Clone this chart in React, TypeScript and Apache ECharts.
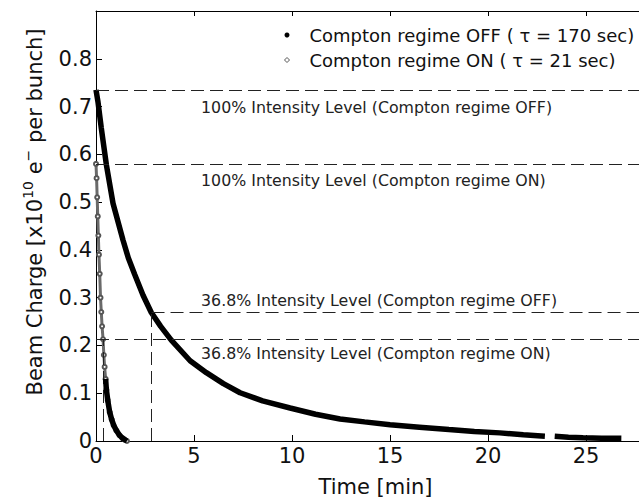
import React, { useEffect, useRef } from "react";
import * as echarts from "echarts";

// Compton regime OFF (tau = 170 sec): time [min], beam charge [1e10 e- per bunch]
const offTime = [0, 0.1, 0.27, 0.53, 0.87, 1.38, 1.65, 1.97, 2.4, 2.82, 3.3, 3.84, 4.8, 5.63, 6.5, 7.35, 8.5, 9.9, 11.2, 12.45, 13.7, 15.0, 16.5, 18.0, 19.3, 20.6, 21.8, 22.9, 23.15, 23.4, 24.1, 24.85, 25.8, 26.8];
const offCharge = [0.735, 0.71, 0.655, 0.578, 0.497, 0.42, 0.383, 0.349, 0.305, 0.269, 0.24, 0.211, 0.168, 0.143, 0.12, 0.101, 0.084, 0.069, 0.056, 0.046, 0.04, 0.034, 0.029, 0.024, 0.02, 0.017, 0.013, 0.01, null, 0.01, 0.008, 0.007, 0.006, 0.0055];

// Compton regime ON (tau = 21 sec)
const onTime = [0, 0.03, 0.06, 0.09, 0.12, 0.15, 0.19, 0.23, 0.27, 0.31, 0.36, 0.4, 0.44, 0.49, 0.53, 0.6, 0.7, 0.8, 0.9, 1.04, 1.2, 1.35, 1.46, 1.58];
const onCharge = [0.58, 0.55, 0.51, 0.47, 0.43, 0.39, 0.35, 0.3, 0.27, 0.24, 0.213, 0.18, 0.155, 0.13, 0.107, 0.085, 0.06, 0.045, 0.033, 0.022, 0.012, 0.006, 0.003, 0.0];

const seriesNames = ["Compton regime OFF ( \u03c4 = 170 sec)", "Compton regime ON ( \u03c4 = 21 sec)"];
const level100 = [0.735, 0.58]; // OFF, ON
const level368 = [0.27, 0.213]; // OFF, ON
const tauMin = [170 / 60, 21 / 60]; // OFF, ON
const levelTexts = [
  "100% Intensity Level (Compton regime OFF)",
  "100% Intensity Level (Compton regime ON)",
  "36.8% Intensity Level (Compton regime OFF)",
  "36.8% Intensity Level (Compton regime ON)",
];

const X_MAX = 27.7;
const Y_MAX = 0.9;
const FONT = "DejaVu Sans";

export default function App() {
  const ref = useRef<HTMLDivElement>(null);
  useEffect(() => {
    const chart = echarts.init(ref.current!, null, { renderer: "svg" });
    const dash = { type: [13, 6] as any, color: "#222", width: 1 };
    const xLabelFmt = (v: number) => (Math.abs(v / 5 - Math.round(v / 5)) < 1e-6 ? String(Math.round(v)) : "");
    const yLabelFmt = (v: number) => (v > 0.85 ? "" : String(Math.round(v * 10) / 10));
    const onPairs = onTime.map((t, i) => [t, onCharge[i]]);
    const option: any = {
      animation: false,
      backgroundColor: "#fff",
      grid: { left: 96, top: 11, right: 0, bottom: 57, containLabel: false },
      legend: {
        orient: "vertical",
        left: 279,
        top: 21,
        itemWidth: 5,
        itemHeight: 5,
        itemGap: 7,
        textStyle: { fontFamily: FONT, fontSize: 18, color: "#111", lineHeight: 18, padding: [0, 0, 0, 15] },
        data: [
          { name: seriesNames[0], icon: "circle", itemStyle: { color: "#000", borderWidth: 0 } },
          { name: seriesNames[1], icon: "diamond", itemStyle: { color: "#fff", borderColor: "#555", borderWidth: 1 } },
        ],
      },
      xAxis: [
        {
          type: "value",
          min: 0,
          max: X_MAX,
          interval: 5,
          position: "bottom",
          name: "Time [min]",
          nameLocation: "middle",
          nameGap: 35,
          nameTextStyle: { fontFamily: FONT, fontSize: 21, color: "#111", padding: [0, 0, 0, 16] },
          axisLine: { lineStyle: { color: "#000", width: 1 } },
          axisTick: { inside: true, length: 6, lineStyle: { color: "#000" } },
          axisLabel: { fontFamily: FONT, fontSize: 21, color: "#111", margin: 4, showMaxLabel: false, formatter: xLabelFmt },
          splitLine: { show: false },
        },
        {
          type: "value",
          min: 0,
          max: X_MAX,
          interval: 5,
          position: "top",
          axisLine: { lineStyle: { color: "#000", width: 1 } },
          axisTick: { inside: true, length: 5, lineStyle: { color: "#000" } },
          axisLabel: { show: false },
          splitLine: { show: false },
        },
      ],
      yAxis: {
        type: "value",
        min: 0,
        max: Y_MAX,
        interval: 0.1,
        name: "{n|Beam Charge [x10}{s|10}{n| e}{s|\u2212}{n| per bunch]}",
        nameLocation: "middle",
        nameGap: 47,
        nameTextStyle: {
          padding: [0, 0, 0, 28],
          rich: {
            n: { fontFamily: FONT, fontSize: 21, color: "#111", lineHeight: 28 },
            s: { fontFamily: FONT, fontSize: 14, color: "#111", lineHeight: 14, verticalAlign: "top" },
          },
        },
        axisLine: { lineStyle: { color: "#000", width: 1 } },
        axisTick: { inside: true, length: 6, lineStyle: { color: "#000" } },
        axisLabel: { fontFamily: FONT, fontSize: 21, color: "#111", margin: 4, formatter: yLabelFmt },
        splitLine: { show: false },
      },
      series: [
        {
          name: seriesNames[0],
          type: "line",
          data: offTime.map((t, i) => [t, offCharge[i] === null ? "-" : offCharge[i]]),
          symbol: "none",
          lineStyle: { color: "#000", width: 5.5 },
          itemStyle: { color: "#000" },
          z: 3,
          markLine: {
            silent: true,
            symbol: ["none", "none"],
            label: { show: false },
            lineStyle: dash,
            data: [
              [{ coord: [0, level100[0]] }, { coord: [X_MAX, level100[0]] }],
              [{ coord: [0, level100[1]] }, { coord: [X_MAX, level100[1]] }],
              [{ coord: [tauMin[0], level368[0]] }, { coord: [X_MAX, level368[0]] }],
              [{ coord: [0, level368[1]] }, { coord: [X_MAX, level368[1]] }],
              [{ coord: [tauMin[0], 0] }, { coord: [tauMin[0], level368[0]] }],
              [{ coord: [tauMin[1], 0] }, { coord: [tauMin[1], level368[1]] }],
            ],
          },
        },
        {
          name: seriesNames[1],
          type: "line",
          data: onPairs,
          symbol: "emptyCircle",
          symbolSize: 4,
          showAllSymbol: true,
          lineStyle: { width: 3, color: "#6a6a6a" },
          itemStyle: { color: "#555", borderWidth: 1 },
          z: 4,
        },
        {
          name: "ON tail",
          type: "line",
          data: onPairs.filter((p) => p[1] <= 0.13),
          symbol: "none",
          lineStyle: { width: 5.5, color: "#000" },
          z: 5,
        },
      ],
    };
    chart.setOption(option);

    const labelT = 5.36;
    const specs = [
      { v: level100[0], dy: 17.5 },
      { v: level100[1], dy: 17 },
      { v: level368[0], dy: -12 },
      { v: level368[1], dy: 14 },
    ];
    const graphics = specs.map((s, i) => {
      const p = chart.convertToPixel({ gridIndex: 0 }, [labelT, s.v]) as number[];
      return {
        type: "text",
        x: p[0],
        y: p[1] + s.dy,
        style: {
          text: levelTexts[i],
          fontFamily: FONT,
          fontSize: 15.8,
          fill: "#222",
          verticalAlign: "middle",
          align: "left",
        },
      };
    });
    chart.setOption({ graphic: graphics });

    return () => chart.dispose();
  }, []);
  return (
    <div
      ref={ref}
      style={{ position: "absolute", left: 0, top: 0, width: 639, height: 502, background: "#fff" }}
    />
  );
}
